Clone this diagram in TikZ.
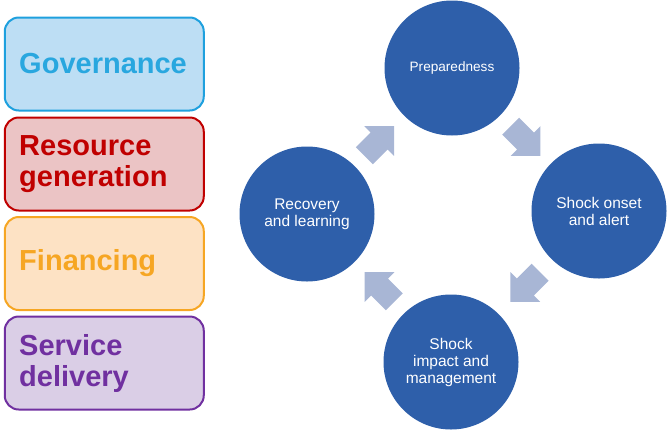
\documentclass[tikz,border=0pt]{standalone}
\usepackage{fontspec}
\setmainfont{Liberation Sans}
\definecolor{circblue}{RGB}{46,95,170}
\definecolor{arrblue}{RGB}{168,182,213}
\definecolor{govfill}{RGB}{189,222,244}
\definecolor{govline}{RGB}{30,160,222}
\definecolor{govtext}{RGB}{41,167,223}
\definecolor{resfill}{RGB}{235,196,197}
\definecolor{resline}{RGB}{192,0,0}
\definecolor{finfill}{RGB}{253,226,196}
\definecolor{finline}{RGB}{246,166,35}
\definecolor{serfill}{RGB}{218,206,230}
\definecolor{serline}{RGB}{112,48,160}
\tikzset{
  pillarbox/.style={draw, line width=2pt, rounded corners=14pt, minimum width=199pt,
    minimum height=93pt, text width=170pt, inner xsep=14.5pt, inner ysep=0pt, align=left,
    font=\fontsize{29}{31}\selectfont\bfseries},
  phase/.style={circle, fill=circblue, draw=none, minimum size=135pt, inner sep=0pt,
    text=white, align=center, font=\fontsize{15.5}{17}\selectfont},
  cyclearrow/.pic={
    \fill[arrblue] (-21pt,-12pt) -- (0pt,-12pt) -- (0pt,-21pt) -- (21pt,0pt)
      -- (0pt,21pt) -- (0pt,12pt) -- (-21pt,12pt) -- cycle;
  }
}
\begin{document}
\begin{tikzpicture}[x=1pt,y=-1pt]
\useasboundingbox (0,0) rectangle (669,429);
% pillar boxes
\node[pillarbox, draw=govline, fill=govfill, text=govtext] (gov) at (104.25,64) {Governance};
\node[pillarbox, draw=resline, fill=resfill, text=resline] (res) at (104.25,164) {Resource\\generation};
\node[pillarbox, draw=finline, fill=finfill, text=finline] (fin) at (104.25,263.5) {Financing};
\node[pillarbox, draw=serline, fill=serfill, text=serline] (ser) at (104.25,363) {Service\\delivery};
% cycle circles
\node[phase, font=\fontsize{13.6}{16}\selectfont] (prep) at (452,68) {Preparedness};
\node[phase] (onset) at (599,211) {Shock onset\\and alert};
\node[phase] (impact) at (451,362) {Shock\\impact and\\management};
\node[phase] (recov) at (307,214) {Recovery\\and learning};
% cycle arrows
\pic[rotate=45] (a1) at (379.2,141) {cyclearrow};
\pic[rotate=-45] (a2) at (525.5,141) {cyclearrow};
\pic[rotate=-135] (a3) at (525.3,287) {cyclearrow};
\pic[rotate=135] (a4) at (379.5,287) {cyclearrow};
\end{tikzpicture}
\end{document}
